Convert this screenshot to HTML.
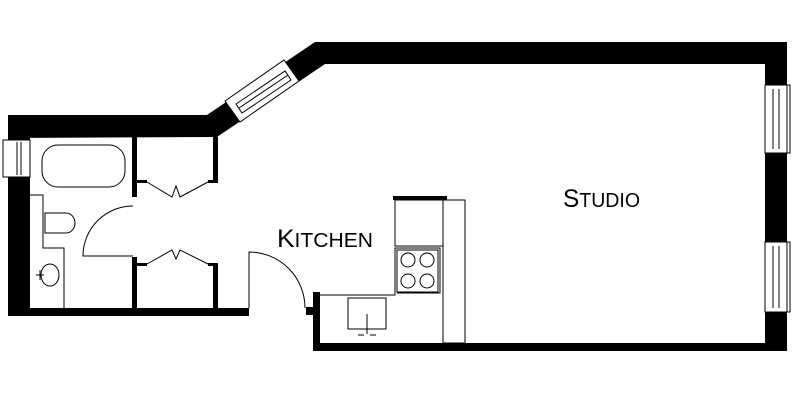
<!DOCTYPE html>
<html><head><meta charset="utf-8"><style>
html,body{margin:0;padding:0;background:#fff;}
svg{display:block}
text{font-family:"Liberation Sans",sans-serif;fill:#000}
</style></head><body>
<svg width="800" height="400" viewBox="0 0 800 400" xmlns="http://www.w3.org/2000/svg">
<rect width="800" height="400" fill="#fff"/>
<g fill="#000">
<polygon points="8,115 207,115 315,42 787,42 787,64 325,64 217,137 8,138"/>
<rect x="765" y="42" width="22" height="309"/>
<rect x="313" y="343" width="474" height="8"/>
<rect x="313" y="292" width="7" height="59"/>
<rect x="306" y="307" width="8" height="8"/>
<rect x="8" y="115" width="22" height="201"/>
<rect x="8" y="308" width="241" height="8"/>
<rect x="132" y="137" width="5" height="60"/>
<rect x="132" y="257" width="5" height="52"/>
<rect x="137" y="180" width="10" height="3"/>
<rect x="137" y="263" width="10" height="3"/>
<rect x="213" y="137" width="5" height="46"/>
<rect x="208" y="180" width="8" height="3"/>
<rect x="213" y="263" width="5" height="46"/>
<rect x="208" y="263" width="8" height="3"/>
<rect x="393" y="196" width="54" height="4"/>
</g>
<g fill="#fff" stroke="#000" stroke-width="1">
<rect x="3" y="140" width="27" height="37"/>
<line x1="17" y1="142" x2="17" y2="175"/><line x1="21" y1="142" x2="21" y2="175"/>
<rect x="765" y="85" width="22" height="68"/><rect x="787" y="85" width="3" height="68"/>
<line x1="773" y1="89" x2="773" y2="149"/><line x1="779" y1="89" x2="779" y2="149"/>
<rect x="765" y="242" width="22" height="70"/><rect x="787" y="242" width="3" height="70"/>
<line x1="773" y1="246" x2="773" y2="308"/><line x1="779" y1="246" x2="779" y2="308"/>
<polygon points="225,101 284,60 299,81 240,122"/>
<polygon points="236,104 285,71 291,80 242,113" fill="none"/>
<line x1="239" y1="108" x2="288" y2="75"/>
<rect x="42" y="145" width="83" height="42" rx="16"/>
<path d="M45,213 H66 A9,10 0 0 1 66,233 H45 Z"/>
<path d="M30,195 H43 V248 H64 V308" fill="none"/>
<ellipse cx="50" cy="275" rx="9" ry="11"/>
<line x1="36" y1="275" x2="44" y2="275"/><line x1="40" y1="270" x2="40" y2="280"/>
<path d="M133,206 A50,50 0 0 0 83,256 H133" fill="none"/>
<polyline points="147,182 172,197 176,186 180,197 208,182" fill="none"/>
<polyline points="147,264 172,250 176,259 180,250 208,264" fill="none"/>
<path d="M249,308 V252 A56,56 0 0 1 305,308" fill="none"/>
<rect x="395" y="200" width="48" height="46" fill="none"/>
<rect x="443" y="200" width="22" height="143" fill="none"/>
<path d="M320,295 H395 V248 H440 V293 H397" fill="none"/>
<rect x="397" y="250" width="41" height="42" fill="none"/>
<circle cx="408" cy="260" r="7"/><circle cx="427" cy="260" r="7"/>
<circle cx="408" cy="281" r="7"/><circle cx="427" cy="281" r="7"/>
<rect x="348" y="298" width="38" height="31" fill="none"/>
<line x1="367" y1="314" x2="367" y2="334"/>
<line x1="358" y1="335" x2="364" y2="335"/><line x1="370" y1="335" x2="376" y2="335"/>
</g>
<text x="277" y="247" font-size="25" textLength="96" lengthAdjust="spacingAndGlyphs">K<tspan font-size="20">ITCHEN</tspan></text>
<text x="563" y="207" font-size="25" textLength="77" lengthAdjust="spacingAndGlyphs">S<tspan font-size="20">TUDIO</tspan></text>
</svg>
</body></html>
